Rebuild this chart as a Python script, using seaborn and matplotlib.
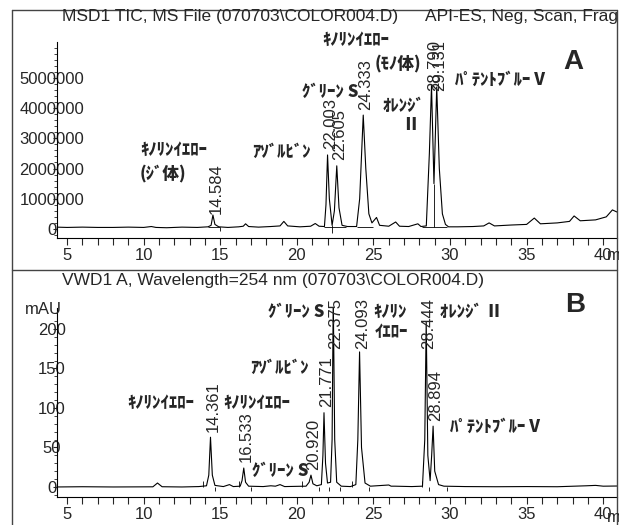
import matplotlib
matplotlib.use("Agg")
import numpy as np
import pandas as pd
import seaborn as sns
import matplotlib.pyplot as plt
from matplotlib.lines import Line2D
from matplotlib.ticker import MultipleLocator

# ---------------- data ----------------
# Panel A: MSD1 TIC trace (time in min, signal in counts)
msd_time = [4.3, 5.0, 6.0, 7.0, 8.0, 9.0, 10.0, 10.5, 10.8, 11.5, 12.5, 13.5,
            14.2, 14.4, 14.52, 14.65, 14.9, 15.5,
            16.2, 16.5, 16.65, 16.85, 17.5, 18.3,
            18.9, 19.15, 19.4, 20.2, 20.9, 21.2, 21.45,
            21.8, 21.9, 22.003, 22.12, 22.3, 22.45, 22.605, 22.75, 22.95, 23.3,
            23.9, 24.1, 24.333, 24.5, 24.7, 24.9, 25.2, 25.4,
            26.0, 26.45, 26.7, 27.3, 27.9, 28.1,
            28.45, 28.65, 28.79, 28.95, 29.131, 29.3, 29.5, 29.7, 29.9,
            30.5, 31.5, 32.2, 32.55, 32.9, 34.0, 35.0, 35.5, 35.9,
            37.0, 37.8, 38.1, 38.5, 39.5, 40.2, 40.6, 40.9]
msd_signal = [0.06e6, 0.05e6, 0.06e6, 0.05e6, 0.05e6, 0.06e6, 0.05e6, 0.08e6, 0.05e6, 0.04e6, 0.06e6, 0.05e6,
              0.07e6, 0.12e6, 0.46e6, 0.15e6, 0.07e6, 0.05e6,
              0.07e6, 0.09e6, 0.17e6, 0.08e6, 0.06e6, 0.08e6,
              0.10e6, 0.25e6, 0.10e6, 0.07e6, 0.09e6, 0.18e6, 0.09e6,
              0.08e6, 0.8e6, 2.45e6, 1.0e6, 0.12e6, 0.6e6, 2.09e6, 0.7e6, 0.12e6, 0.08e6,
              0.08e6, 1.0e6, 3.77e6, 2.0e6, 0.5e6, 0.2e6, 0.38e6, 0.12e6,
              0.09e6, 0.23e6, 0.09e6, 0.08e6, 0.17e6, 0.08e6,
              0.1e6, 2.5e6, 4.75e6, 1.5e6, 4.70e6, 2.0e6, 0.5e6, 0.15e6, 0.07e6,
              0.07e6, 0.08e6, 0.1e6, 0.2e6, 0.1e6, 0.13e6, 0.15e6, 0.36e6, 0.17e6,
              0.2e6, 0.25e6, 0.43e6, 0.27e6, 0.3e6, 0.4e6, 0.63e6, 0.56e6]
msd_peak_rt = [14.584, 22.003, 22.605, 24.333, 28.790, 29.131]
msd_yticks = [0, 1000000, 2000000, 3000000, 4000000, 5000000]
msd_baselines = [(14.2, 14.95, 0.07e6), (21.75, 23.2, 0.05e6), (23.9, 25.0, 0.08e6), (28.2, 29.8, 0.07e6)]
msd_drops = [(14.95, -0.08e6, 0.07e6), (22.3, -0.12e6, 0.12e6), (28.95, 0.07e6, 1.5e6)]

# Panel B: VWD1 A, 254 nm trace (time in min, signal in mAU)
uv_time = [4.3, 6.0, 8.0, 10.6, 10.9, 11.2, 12.5, 13.6,
           14.1, 14.25, 14.361, 14.48, 14.65, 15.2, 15.6, 15.85,
           16.3, 16.42, 16.533, 16.65, 16.85, 17.8, 18.3, 18.6, 18.9, 19.2,
           20.0, 20.6, 20.8, 20.92, 21.05, 21.3,
           21.6, 21.7, 21.771, 21.87, 22.0, 22.2, 22.3, 22.375, 22.47, 22.6, 22.9,
           23.5, 23.85, 23.98, 24.093, 24.22, 24.45, 24.8,
           26.0, 26.15, 26.4, 27.5,
           28.2, 28.35, 28.444, 28.55, 28.7, 28.8, 28.894, 29.0, 29.25, 29.6,
           31.0, 33.0, 35.0, 37.0, 38.9, 39.5, 40.0, 40.9]
uv_signal = [0.0, 0.3, 0.0, 0.2, 5.0, 0.3, 0.0, 0.5,
             1.5, 15.0, 63.0, 15.0, 2.0, 0.5, 3.0, 0.5,
             1.0, 8.0, 24.0, 6.0, 1.0, 0.5, 1.5, 1.0, 3.0, 0.5,
             0.8, 1.0, 6.0, 15.0, 4.0, 1.5,
             3.0, 40.0, 94.0, 30.0, 5.0, 6.0, 60.0, 240.0, 60.0, 6.0, 1.0,
             0.5, 3.0, 60.0, 171.0, 50.0, 5.0, 1.0,
             2.5, 1.0, 1.0, 0.5,
             1.0, 60.0, 209.0, 40.0, 8.0, 40.0, 77.0, 20.0, 3.0, 1.0,
             0.5, 0.3, 0.5, 0.3, 1.5, 2.0, 1.0, 1.2]
uv_peak_rt = [14.361, 16.533, 20.920, 21.771, 22.375, 24.093, 28.444, 28.894]
uv_yticks = [0, 50, 100, 150, 200]
uv_ticks_down = [14.65, 17.0, 21.45, 22.1, 22.8, 24.7, 28.65, 29.8]
uv_ticks_up = [13.85, 16.2, 20.35, 23.6, 28.2]

x_ticks = [5, 10, 15, 20, 25, 30, 35, 40]

# ---------------- style ----------------
sns.set_style("ticks")
plt.rcParams["font.family"] = ["Liberation Sans", "Noto Sans CJK JP", "DejaVu Sans"]
JP = ["Noto Sans CJK JP", "DejaVu Sans"]

W, H = 619, 525
fig = plt.figure(figsize=(W / 100, H / 100), dpi=100)


def fx(px):
    return px / W


def fy(py):
    return 1 - py / H


axA = fig.add_axes([fx(57), fy(238), fx(617) - fx(57), fy(42) - fy(238)])
axB = fig.add_axes([fx(57), fy(497), fx(617) - fx(57), fy(308) - fy(497)])

dfA = pd.DataFrame({"time": msd_time, "signal": msd_signal})
dfB = pd.DataFrame({"time": uv_time, "signal": uv_signal})

sns.lineplot(data=dfA, x="time", y="signal", ax=axA, color="black", lw=0.8,
             estimator=None, sort=False)
sns.lineplot(data=dfB, x="time", y="signal", ax=axB, color="black", lw=0.8,
             estimator=None, sort=False)

# integration baselines / drop lines
for t0, t1, yb in msd_baselines:
    axA.hlines(yb, t0, t1, color="black", lw=0.6)
for t, y0, y1 in msd_drops:
    axA.vlines(t, y0, y1, color="black", lw=0.6)
axB.vlines(uv_ticks_down, -5, 0.5, color="black", lw=0.6)
axB.vlines(uv_ticks_up, 0, 7, color="black", lw=0.6)

axA.set_xlim(4.34, 40.9)
axB.set_xlim(4.34, 40.9)
axA.set_ylim(-0.30e6, 6.19e6)
axB.set_ylim(-12.7, 226.6)

for ax, yt in ((axA, msd_yticks), (axB, uv_yticks)):
    sns.despine(ax=ax)
    ax.set_xlabel("")
    ax.set_ylabel("")
    ax.set_xticks(x_ticks)
    ax.set_xticklabels([str(v) for v in x_ticks], fontsize=12)
    ax.xaxis.set_minor_locator(MultipleLocator(1))
    ax.tick_params(axis="x", which="both", direction="out", length=5, width=0.8, pad=2)
    ax.set_yticks(yt)
    ax.set_yticklabels([str(v) for v in yt], fontsize=12)
    ax.tick_params(axis="y", which="major", direction="out", length=3, width=0.8, pad=0.6)
    ax.tick_params(axis="y", which="minor", direction="out", length=2, width=0.6)
    for lab in ax.get_yticklabels():
        lab.set_ha("center")
    for s in ("left", "bottom"):
        ax.spines[s].set_linewidth(0.8)
        ax.spines[s].set_color("black")
    ax.patch.set_alpha(0)

axA.yaxis.set_minor_locator(MultipleLocator(200000))
axB.yaxis.set_minor_locator(MultipleLocator(10))


# retention-time labels
def rt_labels(ax, time, signal, rts, cap):
    for rt in rts:
        y = min(np.interp(rt, time, signal), cap)
        ax.annotate(f"{rt:.3f}", xy=(rt, y), xytext=(2, 4), textcoords="offset points",
                    rotation=90, ha="center", va="bottom", fontsize=12)


rt_labels(axA, msd_time, msd_signal, msd_peak_rt, 4.37e6)
rt_labels(axB, uv_time, uv_signal, uv_peak_rt, 168)

# frame lines
for (x0, y0, x1, y1) in [(12, 10, 617, 10), (12, 10, 12, 525), (617, 10, 617, 525), (12, 270, 617, 270)]:
    fig.add_artist(Line2D([fx(x0), fx(x1)], [fy(y0), fy(y1)], color="#444444", lw=1.0))

# titles
fig.text(fx(62), fy(17), "MSD1 TIC, MS File (070703\\COLOR004.D)", fontsize=12.5, va="center", ha="left")
fig.text(fx(425), fy(17), "API-ES, Neg, Scan, Frag", fontsize=12.5, va="center", ha="left")
fig.text(fx(62), fy(280), "VWD1 A, Wavelength=254 nm (070703\\COLOR004.D)", fontsize=12.5, va="center", ha="left")
fig.text(fx(25), fy(310), "mAU", fontsize=12, va="center", ha="left")
fig.text(fx(607), fy(256), "m", fontsize=12, va="center", ha="left")
fig.text(fx(607), fy(518), "m", fontsize=12, va="center", ha="left")

fig.text(fx(573), fy(62), "A", fontsize=20, fontweight="bold", va="center", ha="center")
fig.text(fx(575), fy(305), "B", fontsize=20, fontweight="bold", va="center", ha="center")

jp_labels = [
    ("ｷﾉﾘﾝｲｴﾛｰ", 140, 150), ("(ｼﾞ体)", 140, 173), ("ｱｿﾞﾙﾋﾞﾝ", 252, 152),
    ("ｸﾞﾘｰﾝ S", 302, 92), ("ｷﾉﾘﾝｲｴﾛｰ", 322, 40), ("(ﾓﾉ体)", 375, 63),
    ("ｵﾚﾝｼﾞ", 383, 106), ("Ⅱ", 402, 125), ("ﾊﾟﾃﾝﾄﾌﾞﾙｰ V", 455, 80),
    ("ｸﾞﾘｰﾝ S", 268, 312), ("ｱｿﾞﾙﾋﾞﾝ", 250, 368), ("ｷﾉﾘﾝｲｴﾛｰ", 127, 403),
    ("ｷﾉﾘﾝｲｴﾛｰ", 223, 403), ("ｸﾞﾘｰﾝ S", 252, 471), ("ｷﾉﾘﾝ", 373, 312),
    ("ｲｴﾛｰ", 375, 332), ("ｵﾚﾝｼﾞ Ⅱ", 440, 312), ("ﾊﾟﾃﾝﾄﾌﾞﾙｰ V", 450, 427),
]
for txt, x, y in jp_labels:
    fig.text(fx(x), fy(y), txt, family=JP, fontsize=12, fontweight="black", va="center", ha="left")

fig.savefig("out.png", dpi=100)
